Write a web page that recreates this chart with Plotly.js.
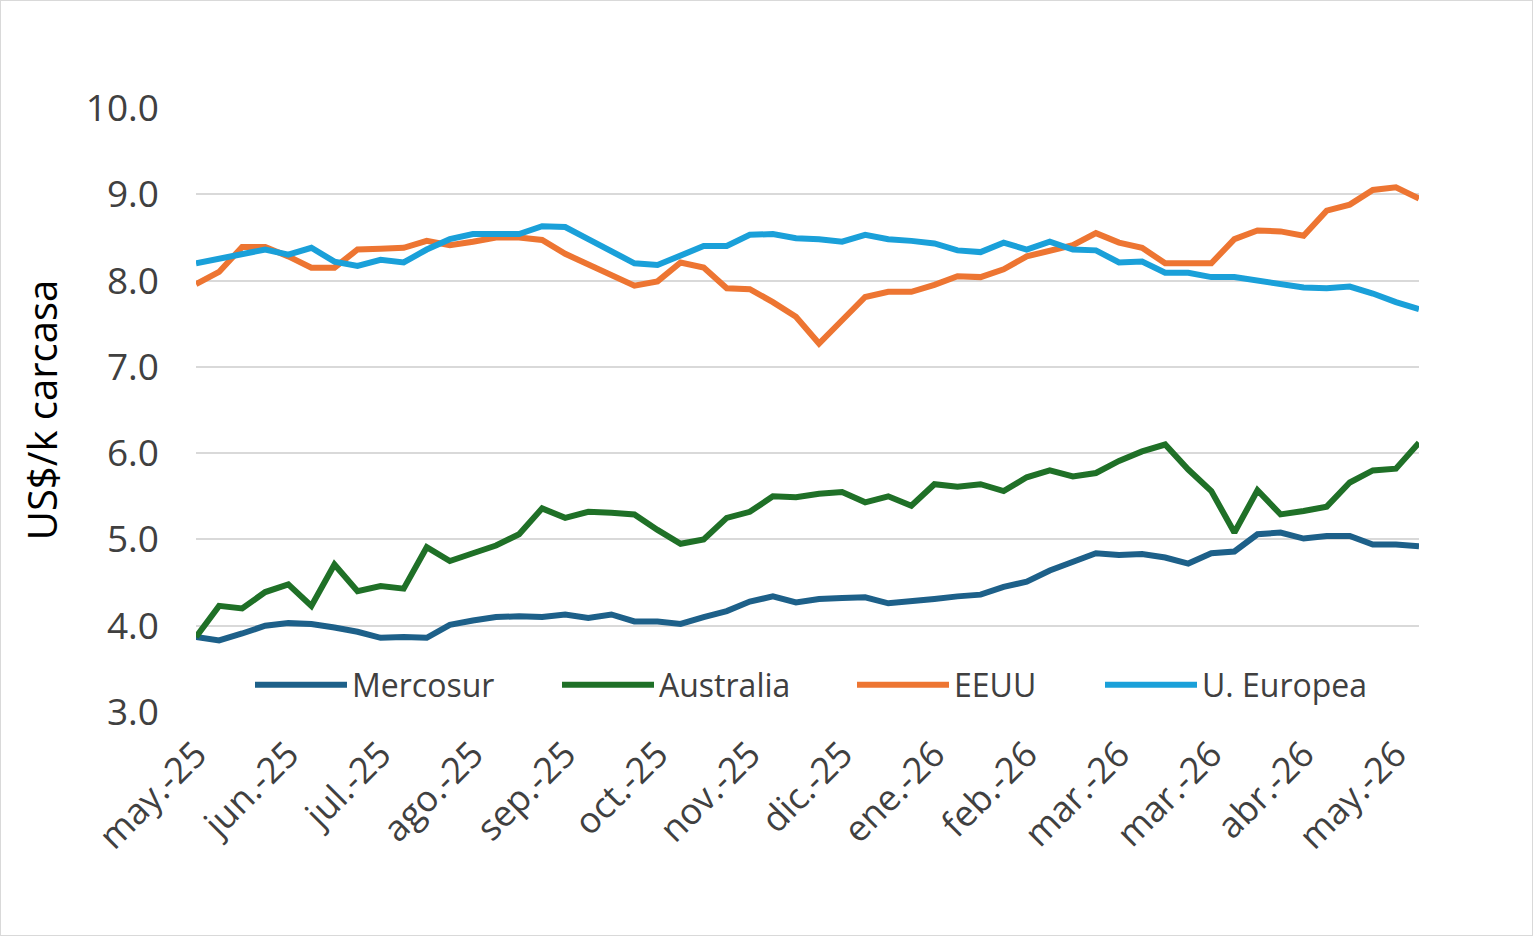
<!DOCTYPE html>
<html>
<head>
<meta charset="utf-8">
<script src="https://cdn.plot.ly/plotly-3.0.1.min.js"></script>
<style>
  html, body { margin: 0; padding: 0; background: #ffffff; }
  #chart { width: 1533px; height: 936px; box-sizing: border-box; border: 1px solid #d9d9d9; }
</style>
</head>
<body>
<div id="chart"></div>
<script>
// Tick labels shown every 4 weeks
const tickLabels = ["may.-25","jun.-25","jul.-25","ago.-25","sep.-25","oct.-25","nov.-25",
                    "dic.-25","ene.-26","feb.-26","mar.-26","mar.-26","abr.-26","may.-26"];

// Weekly prices, US$/kg carcass
const mercosur = [3.87,3.83,3.91,4.00,4.03,4.02,3.98,3.93,3.86,3.87,3.86,4.01,4.06,4.10,4.11,4.10,4.13,4.09,
                  4.13,4.05,4.05,4.02,4.10,4.17,4.28,4.34,4.27,4.31,4.32,4.33,4.26,4.28,4.31,4.34,4.36,4.45,
                  4.51,4.64,4.74,4.84,4.82,4.83,4.79,4.72,4.84,4.86,5.06,5.08,5.01,5.04,5.04,4.94,4.94,4.92];
const australia = [3.87,4.23,4.20,4.39,4.48,4.23,4.71,4.40,4.46,4.43,4.91,4.75,4.84,4.93,5.06,5.36,5.25,5.32,
                   5.31,5.29,5.11,4.95,5.00,5.25,5.32,5.50,5.49,5.53,5.55,5.43,5.50,5.39,5.64,5.61,5.64,5.56,
                   5.72,5.80,5.73,5.77,5.91,6.02,6.10,5.81,5.56,5.08,5.57,5.29,5.33,5.38,5.66,5.80,5.82,6.12];
const eeuu = [7.96,8.10,8.39,8.39,8.28,8.15,8.15,8.36,8.37,8.38,8.46,8.41,8.45,8.50,8.50,8.47,8.31,8.19,
              8.06,7.94,7.99,8.21,8.15,7.91,7.90,7.75,7.58,7.27,7.54,7.81,7.87,7.87,7.95,8.05,8.04,8.13,
              8.28,8.34,8.41,8.55,8.44,8.38,8.20,8.20,8.20,8.48,8.58,8.57,8.52,8.81,8.88,9.05,9.08,8.95];
const uEuropea = [8.20,8.25,8.31,8.36,8.30,8.38,8.22,8.17,8.24,8.21,8.36,8.48,8.54,8.54,8.54,8.63,8.62,8.48,
                  8.34,8.20,8.18,8.29,8.40,8.40,8.53,8.54,8.49,8.48,8.45,8.53,8.48,8.46,8.43,8.35,8.33,8.44,
                  8.36,8.45,8.36,8.35,8.21,8.22,8.09,8.09,8.04,8.04,8.00,7.96,7.92,7.91,7.93,7.85,7.75,7.67];

const seriesNames = ["Mercosur","Australia","EEUU","U. Europea"];
const seriesColors = ["#1d6089","#1f7027","#ed7532","#1aa0d9"];

const weeks = mercosur.map((_, i) => i);
const tickVals = tickLabels.map((_, k) => k * 4);

const FONT = "'Open Sans', 'Noto Sans', sans-serif";
const TXT = "#404040";

const allSeries = [mercosur, australia, eeuu, uEuropea];
const legendIds = ["legend","legend2","legend3","legend4"];
const traces = allSeries.map((vals, k) => ({
  type: "scatter",
  mode: "lines",
  x: weeks,
  y: vals,
  name: seriesNames[k],
  legend: legendIds[k],
  line: { color: seriesColors[k], width: 6 },
  hoverinfo: "x+y+name"
}));

// Plot area in pixels: left 196, right 1419, top 108, bottom 712
const W = 1531, H = 934;
const L = 195, R = W - 1418, T = 107, B = H - 711;
const plotW = W - L - R, plotH = H - T - B;
const legendStartsPx = [255, 562, 857, 1105];
function legendDef(px) {
  return {
    orientation: "h",
    x: (px - 1 - L - 5) / plotW,
    xanchor: "left",
    y: (711 - 684) / plotH,
    yanchor: "middle",
    bgcolor: "rgba(0,0,0,0)",
    borderwidth: 0,
    itemwidth: 92,
    font: { family: FONT, size: 32, color: TXT }
  };
}

const layout = {
  width: W,
  height: H,
  margin: { l: L, r: R, t: T, b: B },
  paper_bgcolor: "#ffffff",
  plot_bgcolor: "#ffffff",
  showlegend: true,
  legend: legendDef(legendStartsPx[0]),
  legend2: legendDef(legendStartsPx[1]),
  legend3: legendDef(legendStartsPx[2]),
  legend4: legendDef(legendStartsPx[3]),
  xaxis: {
    range: [0, weeks.length - 1],
    tickmode: "array",
    tickvals: tickVals,
    ticktext: tickLabels,
    tickangle: -45,
    ticks: "",
    showgrid: false,
    zeroline: false,
    showline: false,
    ticklabelstandoff: 13,
    tickfont: { family: FONT, size: 36, color: TXT },
    fixedrange: true
  },
  yaxis: {
    range: [3, 10],
    dtick: 1,
    tick0: 3,
    tickformat: ".1f",
    ticks: "",
    showgrid: true,
    gridcolor: "#d9d9d9",
    gridwidth: 2,
    zeroline: false,
    showline: false,
    ticklabelstandoff: 36,
    tickfont: { family: FONT, size: 37, color: TXT },
    title: { text: "US$/k carcasa", font: { family: FONT, size: 40, color: "#000000" }, standoff: 15 },
    fixedrange: true
  }
};

Plotly.newPlot("chart", traces, layout, { displayModeBar: false, responsive: false });
</script>
</body>
</html>
